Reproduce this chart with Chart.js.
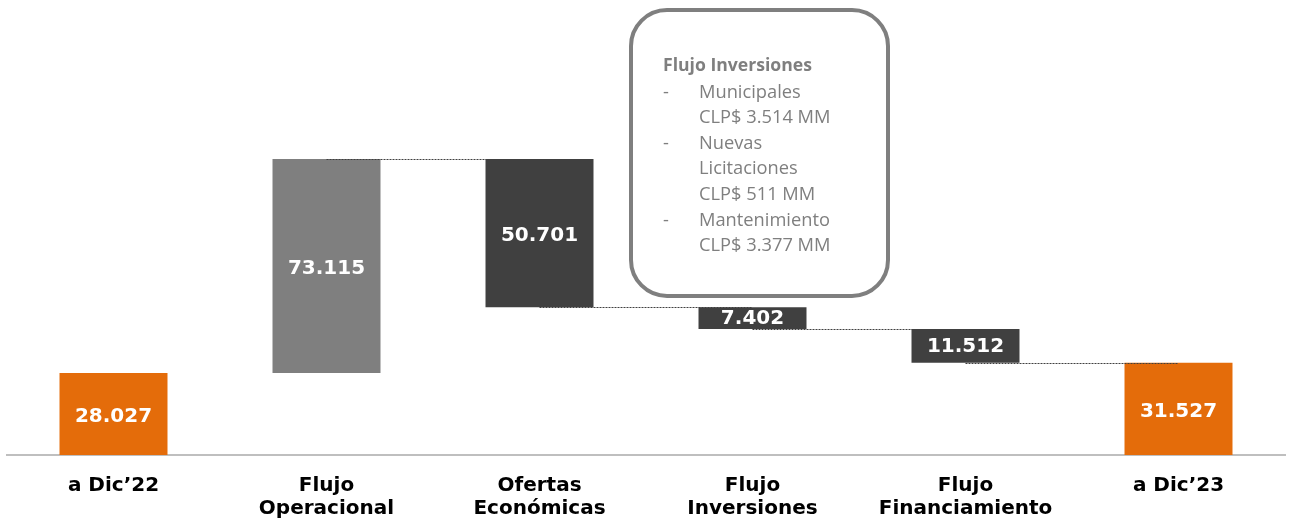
<!DOCTYPE html>
<html>
<head>
<meta charset="utf-8">
<script src="https://cdn.jsdelivr.net/npm/chart.js@4"></script>
<style>
  html, body { margin: 0; padding: 0; background: #fff; }
  #wrap { position: relative; width: 1293px; height: 520px; }
  #note {
    position: absolute; left: 629px; top: 8px;
    border: 4px solid #7f7f7f; border-radius: 38px; box-sizing: border-box;
    width: 261px; height: 290px;
    font-family: "Open Sans", "Liberation Sans", sans-serif; color: #7f7f7f;
    font-size: 18.3px; line-height: 25.6px; padding: 40px 0 0 30px;
  }
  #note .t { font-weight: bold; font-size: 17.6px; }
  #note .r { display: flex; }
  #note .d { width: 36px; flex: none; }
</style>
</head>
<body>
<div id="wrap">
  <canvas id="c" width="1293" height="520"></canvas>
  <div id="note">
    <div class="t">Flujo Inversiones</div>
    <div class="r"><span class="d">-</span><span>Municipales<br>CLP$ 3.514 MM</span></div>
    <div class="r"><span class="d">-</span><span>Nuevas<br>Licitaciones<br>CLP$ 511 MM</span></div>
    <div class="r"><span class="d">-</span><span>Mantenimiento<br>CLP$ 3.377 MM</span></div>
  </div>
</div>
<script>
// Waterfall: saldo inicial, movimientos, saldo final
const categories = [['a Dic\u201922'], ['Flujo', 'Operacional'], ['Ofertas', 'Económicas'], ['Flujo', 'Inversiones'], ['Flujo', 'Financiamiento'], ['a Dic\u201923']];
const moves = [28.027, 73.115, -50.701, -7.402, -11.512, null]; // null = total
const valueLabels = ['28.027', '73.115', '50.701', '7.402', '11.512', '31.527'];
const barColors = ['#e46c0a', '#7f7f7f', '#404040', '#404040', '#404040', '#e46c0a'];

// build floating ranges from the movements
const ranges = [];
let running = 0;
moves.forEach((m, i) => {
    if (i === 0) { ranges.push([0, m]); running = m; }
    else if (m === null) { ranges.push([0, running]); }
    else { ranges.push([running, running + m]); running += m; }
});

const FONT = '"DejaVu Sans", sans-serif';

const waterfallExtras = {
    id: 'waterfallExtras',
    afterDatasetsDraw(chart) {
        const ctx = chart.ctx;
        const meta = chart.getDatasetMeta(0);
        const y = chart.scales.y;
        ctx.save();
        // dotted connectors between bar centers (skip first step, like the original)
        ctx.strokeStyle = '#404040';
        ctx.lineWidth = 1;
        ctx.setLineDash([2, 1]);
        for (let i = 1; i < ranges.length - 1; i++) {
            const end = ranges[i][1];
            const py = Math.round(y.getPixelForValue(end)) + 0.5;
            ctx.beginPath();
            ctx.moveTo(meta.data[i].x, py);
            ctx.lineTo(meta.data[i + 1].x, py);
            ctx.stroke();
        }
        ctx.setLineDash([]);
        // value labels inside bars
        ctx.fillStyle = '#fff';
        ctx.font = 'bold 20px ' + FONT;
        ctx.textAlign = 'center';
        ctx.textBaseline = 'middle';
        meta.data.forEach((bar, i) => {
            const h = Math.abs(bar.base - bar.y);
            const off = h > 40 ? 3 : 1;
            ctx.fillText(valueLabels[i], bar.x, (bar.y + bar.base) / 2 + off);
        });
        ctx.restore();
    }
};

new Chart(document.getElementById('c'), {
    type: 'bar',
    data: {
        labels: categories,
        datasets: [{
            data: ranges,
            backgroundColor: barColors,
            borderWidth: 0,
            barPercentage: 1,
            categoryPercentage: 0.507
        }]
    },
    options: {
        responsive: false,
        animation: false,
        layout: { padding: { left: 7, right: 8, top: 10, bottom: 0 } },
        plugins: { legend: { display: false }, tooltip: { enabled: false } },
        scales: {
            x: {
                grid: { display: false, drawTicks: false },
                border: { display: true, color: '#bfbfbf', width: 2 },
                ticks: { color: '#000', padding: 19, font: { family: FONT, weight: 'bold', size: 20, lineHeight: 1.15 } },
                afterFit(scale) { scale.height = 65; }
            },
            y: {
                display: false,
                min: 0,
                max: 152
            }
        }
    },
    plugins: [waterfallExtras]
});
</script>
</body>
</html>
